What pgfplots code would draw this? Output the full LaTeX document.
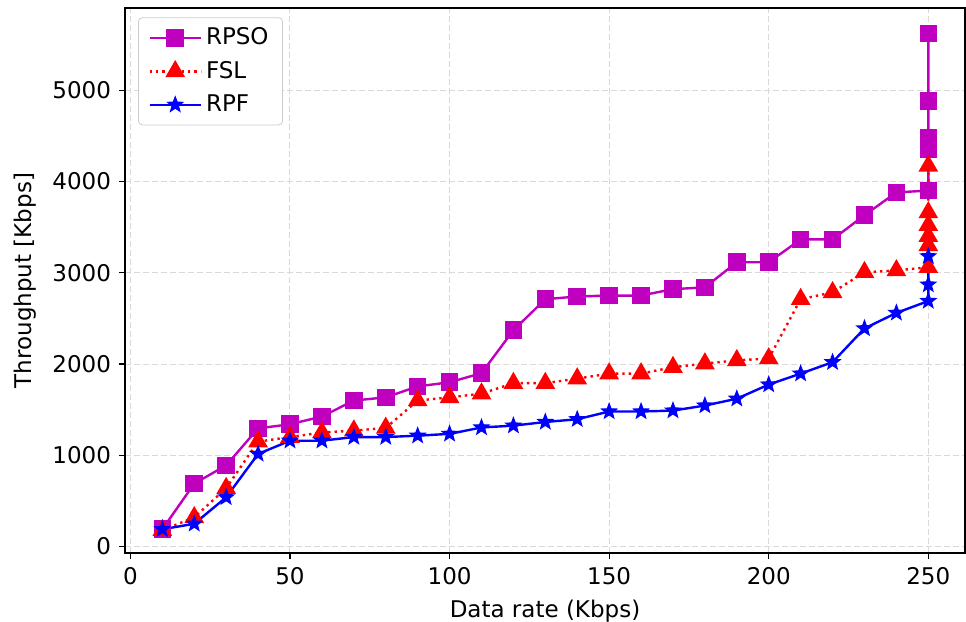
\documentclass[border=0pt]{standalone}
\usepackage{pgfplots}
\pgfplotsset{compat=1.18}
\usepackage{fontspec}
\setmainfont{DejaVu Sans}
\usetikzlibrary{calc}
\definecolor{mpm}{rgb}{0.75,0,0.75}
\definecolor{gridc}{rgb}{0.85,0.85,0.85}
\pgfdeclareplotmark{fstar}{%
  \pgfpathmoveto{\pgfqpointpolar{90}{\pgfplotmarksize}}%
  \pgfpathlineto{\pgfqpointpolar{126}{0.42\pgfplotmarksize}}%
  \pgfpathlineto{\pgfqpointpolar{162}{\pgfplotmarksize}}%
  \pgfpathlineto{\pgfqpointpolar{198}{0.42\pgfplotmarksize}}%
  \pgfpathlineto{\pgfqpointpolar{234}{\pgfplotmarksize}}%
  \pgfpathlineto{\pgfqpointpolar{270}{0.42\pgfplotmarksize}}%
  \pgfpathlineto{\pgfqpointpolar{306}{\pgfplotmarksize}}%
  \pgfpathlineto{\pgfqpointpolar{342}{0.42\pgfplotmarksize}}%
  \pgfpathlineto{\pgfqpointpolar{18}{\pgfplotmarksize}}%
  \pgfpathlineto{\pgfqpointpolar{54}{0.42\pgfplotmarksize}}%
  \pgfpathclose
  \pgfusepathqfillstroke}
\begin{document}
\fontsize{11.5}{13.8}\selectfont
\begin{tikzpicture}
\begin{axis}[
  name=ax,
  scale only axis,
  width=420pt, height=272.5pt,
  xmin=-1.7, xmax=261.5,
  ymin=-70, ymax=5900,
  xtick={0,50,100,150,200,250},
  ytick={0,1000,2000,3000,4000,5000},
  scaled y ticks=false,
  /pgf/number format/assume math mode=true,
  /pgf/number format/1000 sep={},
  tick align=outside,
  major tick length=3pt,
  tick style={black, line width=0.6pt},
  axis line style={black, line width=0.6pt},
  xtick pos=bottom, ytick pos=left,
  grid=major,
  major grid style={gridc, dash pattern=on 3pt off 1.5pt, line width=0.5pt},
  xlabel={Data rate (Kbps)},
  ylabel={Throughput [Kbps]},
  xticklabel style={font=\fontsize{11.5}{13.8}\selectfont},
  yticklabel style={font=\fontsize{11.5}{13.8}\selectfont},
  legend image code/.code={\draw[mark repeat=2,mark phase=2] plot coordinates {(0cm,0cm) (0.45cm,0cm) (0.9cm,0cm)};},
  legend style={at={(0.0155,0.983)}, anchor=north west, draw=gray!40, rounded corners=2pt, font=\fontsize{11.5}{13.8}\selectfont, row sep=2.5pt, inner sep=3pt, inner xsep=5pt},
  legend cell align=left,
]
\addplot[mpm, line width=1.2pt, mark=square*, mark size=3.8pt, mark options={solid, fill=mpm}] coordinates {
(10,190) (20,690) (30,890) (40,1295) (50,1340) (60,1425) (70,1600) (80,1635) (90,1755) (100,1800)
(110,1900) (120,2370) (130,2710) (140,2740) (150,2750) (160,2750) (170,2820) (180,2840) (190,3115) (200,3115)
(210,3365) (220,3365) (230,3630) (240,3880) (250,3900) (250,4350) (250,4480) (250,4880) (250,5620)
};
\addlegendentry{RPSO}
\addplot[red, line width=1.2pt, dotted, mark=triangle*, mark size=4.5pt, mark options={solid, fill=red}] coordinates {
(10,180) (20,320) (30,640) (40,1150) (50,1200) (60,1250) (70,1270) (80,1300) (90,1600) (100,1635)
(110,1675) (120,1790) (130,1790) (140,1840) (150,1895) (160,1895) (170,1965) (180,2005) (190,2040) (200,2060)
(210,2710) (220,2785) (230,3005) (240,3025) (250,3060) (250,3300) (250,3400) (250,3520) (250,3660) (250,4170)
};
\addlegendentry{FSL}
\addplot[blue, line width=1.2pt, mark=fstar, mark size=3.9pt, mark options={solid, fill=blue, line width=0.6pt}] coordinates {
(10,190) (20,250) (30,540) (40,1015) (50,1160) (60,1160) (70,1200) (80,1200) (90,1215) (100,1235)
(110,1305) (120,1325) (130,1365) (140,1395) (150,1480) (160,1480) (170,1490) (180,1545) (190,1620) (200,1775)
(210,1895) (220,2020) (230,2390) (240,2560) (250,2690) (250,2870) (250,3180)
};
\addlegendentry{RPF}
\end{axis}
\pgfresetboundingbox
\path[use as bounding box] ($(ax.south west)+(-62.5pt,-34.5pt)$) rectangle ($(ax.north east)+(0.5pt,4pt)$);
\end{tikzpicture}
\end{document}
